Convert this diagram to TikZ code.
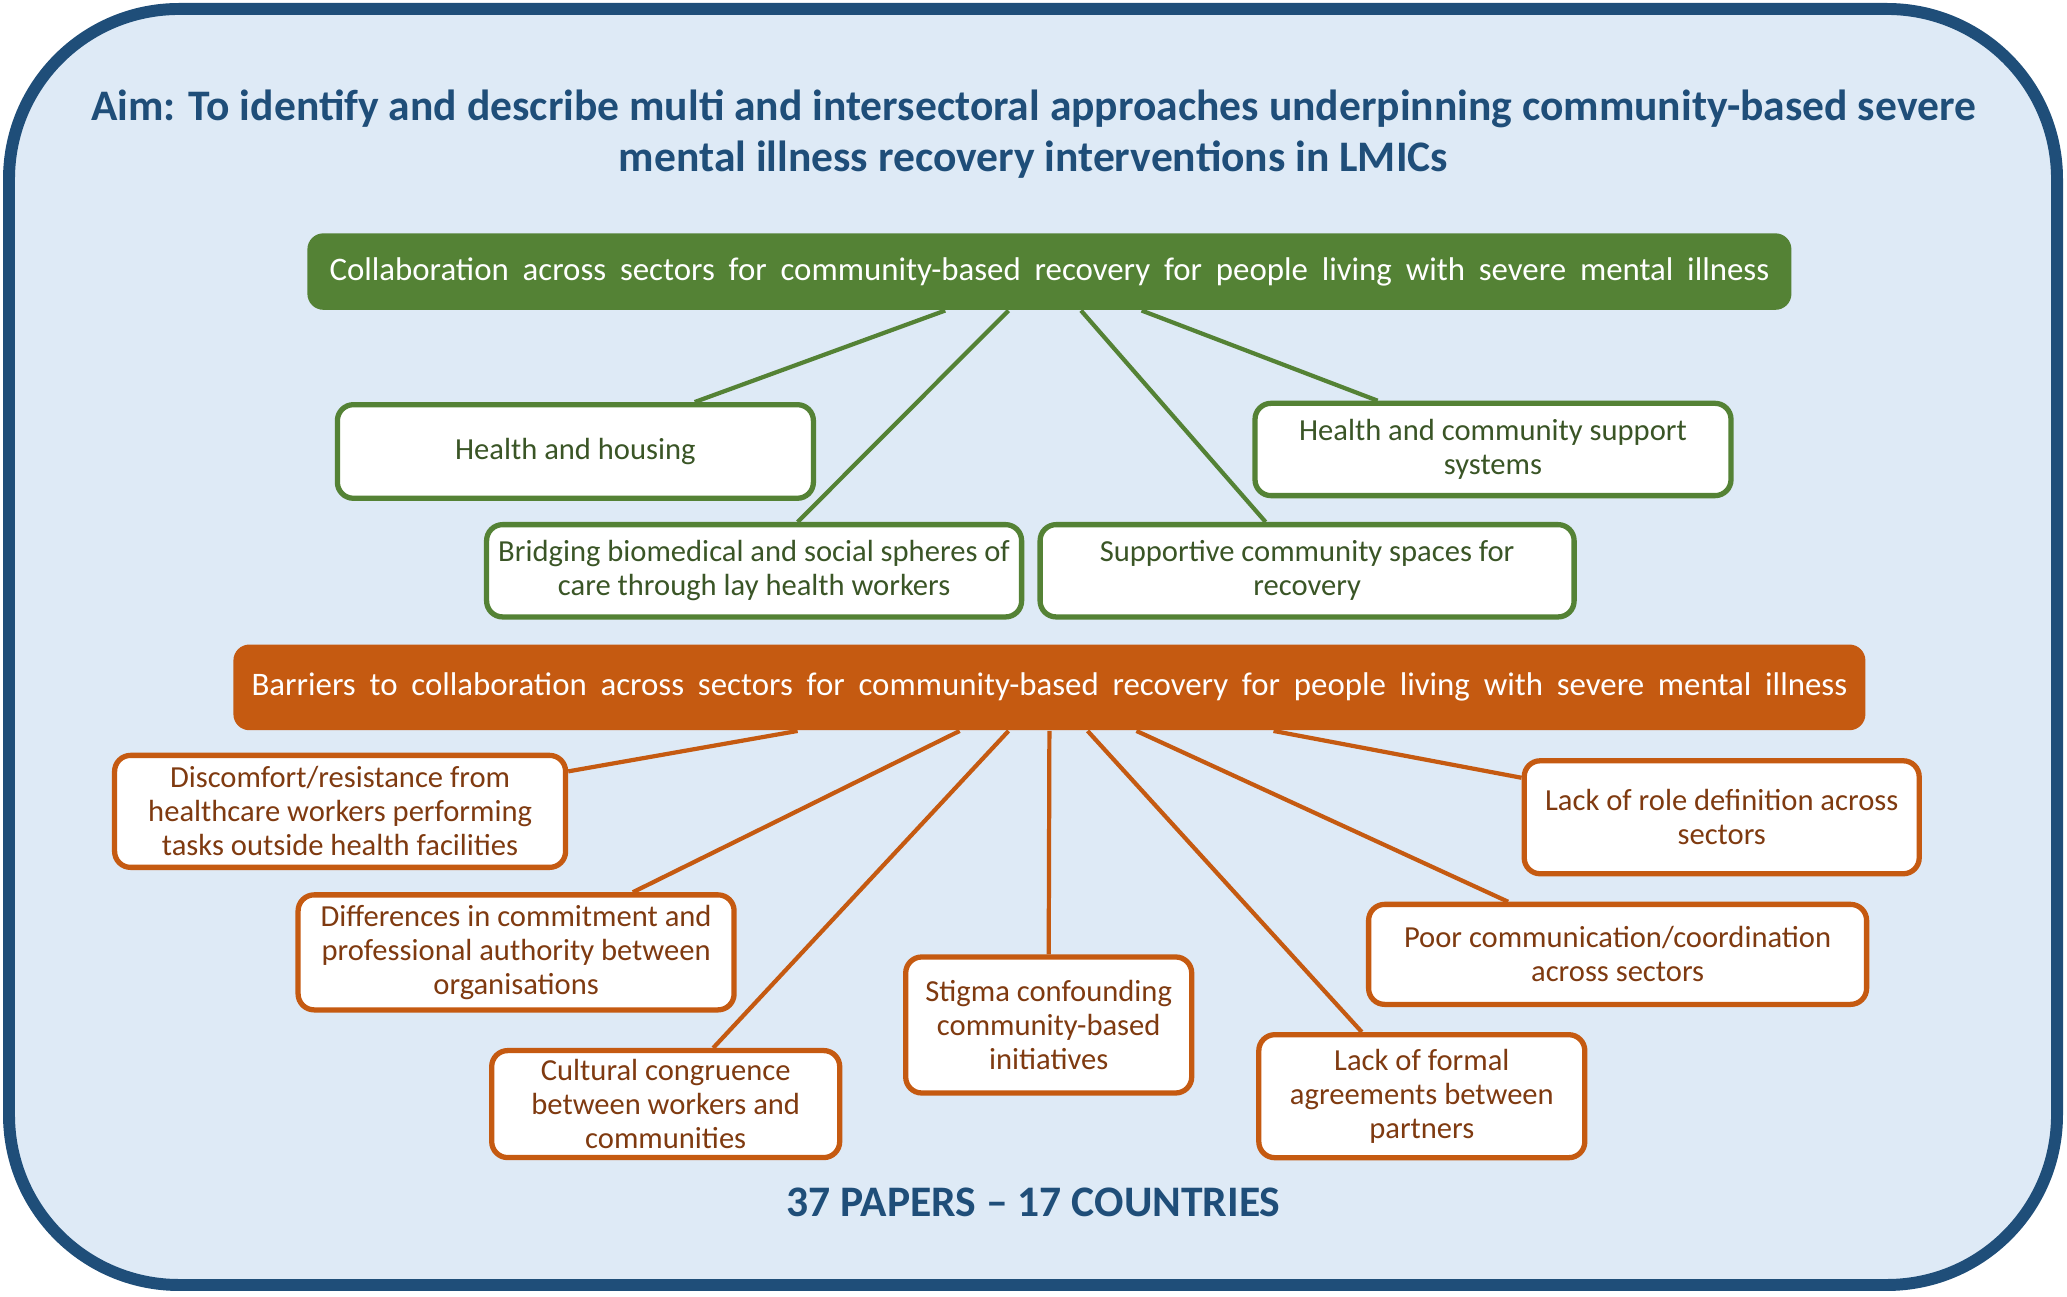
\documentclass[tikz,border=0pt]{standalone}
\usepackage{fontspec}
\setmainfont{Carlito}

\definecolor{aimblue}{HTML}{1F4E79}
\definecolor{panelblue}{HTML}{DEEAF6}
\definecolor{leafgreen}{HTML}{548235}
\definecolor{leaftext}{HTML}{3A5526}
\definecolor{rust}{HTML}{C55A11}
\definecolor{rusttext}{HTML}{7F3A10}

\newcommand\headfont{\fontsize{9.35}{11}\selectfont\spaceskip=0.42em\relax}

\begin{document}
\begin{tikzpicture}[
  font=\fontsize{8.7}{9.7}\selectfont,
  aimtext/.style={text=aimblue, align=center, font=\fontsize{12.4}{14.5}\selectfont\bfseries},
  headbox/.style={rounded corners=1.6mm, inner sep=0pt, text=white, minimum height=#1,
    font=\headfont},
  greenhead/.style={headbox=7.65mm, fill=leafgreen, minimum width=148.4mm},
  rusthead/.style={headbox=8.57mm, fill=rust, minimum width=163.2mm},
  greenleaf/.style={draw=leafgreen, fill=white, line width=1.5pt, rounded corners=1.6mm,
    inner sep=0pt, align=center, text=leaftext},
  rustleaf/.style={draw=rust, fill=white, line width=1.5pt, rounded corners=1.6mm,
    inner sep=0pt, align=center, text=rusttext},
  greenline/.style={leafgreen, line width=1.2pt},
  rustline/.style={rust, line width=1.2pt}]

\useasboundingbox (0,0) rectangle (20.67,12.97);

% Draw the panel
\draw[aimblue, line width=3.4pt, fill=panelblue, rounded corners=17mm] (0.09,0.12) rectangle (20.57,12.88);

%% Aim and counts
\node[aimtext] (aim) at (10.335,11.63) {Aim: To identify and describe multi and intersectoral approaches underpinning community-based severe\\mental illness recovery interventions in LMICs};
\node[aimtext] (count) at (10.335,0.95) {37 PAPERS -- 17 COUNTRIES};

%% Collaboration across sectors
\node[greenhead] (collab) at (10.494,10.254) {Collaboration across sectors for community-based recovery for people living with severe mental illness};

\node[greenleaf, minimum width=47.6mm, minimum height=9.36mm] (housing) at (5.754,8.455) {Health and housing};
\node[greenleaf, minimum width=47.6mm, minimum height=9.23mm] (support) at (14.930,8.475) {Health and community support\\systems};
\node[greenleaf, minimum width=53.5mm, minimum height=9.23mm] (bridging) at (7.541,7.262) {Bridging biomedical and social spheres of\\care through lay health workers};
\node[greenleaf, minimum width=53.4mm, minimum height=9.23mm] (spaces) at (13.071,7.262) {Supportive community spaces for\\recovery};

\draw[greenline] ([xshift=-10.42mm]collab.south) -- ([xshift=11.93mm]housing.north);
\draw[greenline] ([xshift=-4.09mm]collab.south) -- ([xshift=4.35mm]bridging.north);
\draw[greenline] ([xshift=3.16mm]collab.south) -- ([xshift=-4.15mm]spaces.north);
\draw[greenline] ([xshift=9.22mm]collab.south) -- ([xshift=-11.54mm]support.north);

%% Barriers to collaboration
\node[rusthead] (barriers) at (10.494,6.096) {Barriers to collaboration across sectors for community-based recovery for people living with severe mental illness};

\node[rustleaf, minimum width=45.1mm, minimum height=11.2mm] (discomfort) at (3.401,4.856) {Discomfort/resistance from\\healthcare workers performing\\tasks outside health facilities};
\node[rustleaf, minimum width=43.6mm, minimum height=11.5mm] (differences) at (5.161,3.446) {Differences in commitment and\\professional authority between\\organisations};
\node[rustleaf, minimum width=34.8mm, minimum height=10.7mm] (cultural) at (6.657,1.929) {Cultural congruence\\between workers and\\communities};
\node[rustleaf, minimum width=28.6mm, minimum height=13.6mm] (stigma) at (10.487,2.720) {Stigma confounding\\community-based\\initiatives};
\node[rustleaf, minimum width=32.6mm, minimum height=12.3mm] (formal) at (14.218,2.008) {Lack of formal\\agreements between\\partners};
\node[rustleaf, minimum width=49.8mm, minimum height=10.0mm] (poorcomm) at (16.176,3.426) {Poor communication/coordination\\across sectors};
\node[rustleaf, minimum width=39.5mm, minimum height=11.3mm] (roles) at (17.217,4.797) {Lack of role definition across\\sectors};

\draw[rustline] ([xshift=-25.18mm]barriers.south) -- ([yshift=4.0mm]discomfort.east);
\draw[rustline] ([xshift=-8.97mm]barriers.south) -- ([xshift=11.67mm]differences.north);
\draw[rustline] ([xshift=-4.09mm]barriers.south) -- ([xshift=4.75mm]cultural.north);
\draw[rustline] (barriers.south) -- (stigma.north);
\draw[rustline] ([xshift=3.82mm]barriers.south) -- ([xshift=-6.0mm]formal.north);
\draw[rustline] ([xshift=8.70mm]barriers.south) -- ([xshift=-10.95mm]poorcomm.north);
\draw[rustline] ([xshift=22.41mm]barriers.south) -- ([yshift=3.95mm]roles.west);

\end{tikzpicture}
\end{document}
